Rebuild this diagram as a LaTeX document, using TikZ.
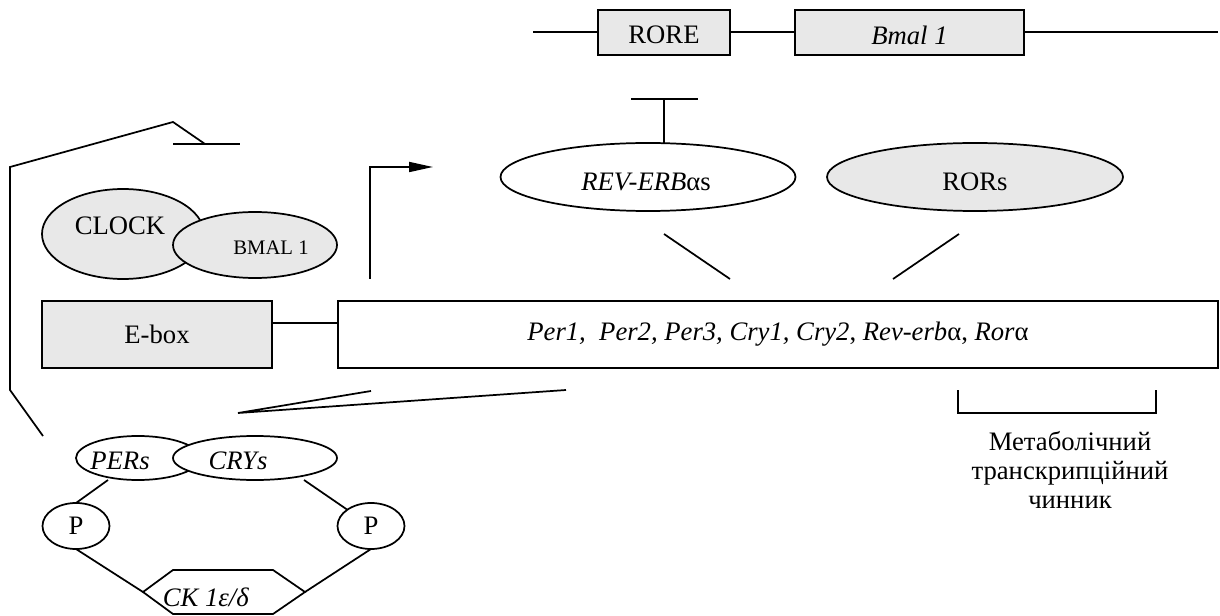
\documentclass[tikz,border=0pt]{standalone}
\usepackage{fontspec}
\setmainfont{Liberation Serif}
\usetikzlibrary{arrows.meta,shapes.geometric}
\definecolor{boxgray}{HTML}{E8E8E8}
\begin{document}
\begin{tikzpicture}[x=0.75pt,y=-0.75pt,
  every node/.style={font=\fontsize{20}{24}\selectfont, inner sep=0pt, outer sep=0pt},
  ln/.style={line width=1.3pt},
  gbox/.style={draw, ln, fill=boxgray, rectangle},
  wbox/.style={draw, ln, fill=white, rectangle},
  gell/.style={draw, ln, fill=boxgray, ellipse},
  well/.style={draw, ln, fill=white, ellipse},
  small/.style={font=\fontsize{15.5}{18}\selectfont}]
\useasboundingbox (0,0) rectangle (1220,616);

% top gene line
\coordinate (tl) at (533,32);
\coordinate (tr) at (1218,32);
\node[gbox, minimum width=99pt, minimum height=33.75pt] (rore) at (664,32.5) {};
\node (roretxt) at (664,35) {RORE};
\node[gbox, minimum width=171.75pt, minimum height=33.75pt] (bmal) at (909.5,32.5) {};
\node (bmaltxt1) at (909.5,35) {\textit{Bmal 1}};
\draw[ln] (tl) -- (tl -| rore.west);
\draw[ln] (rore.east |- tl) -- (bmal.west |- tl);
\draw[ln] (bmal.east |- tl) -- (tr);

% REV-ERB and RORs
\node[well, minimum width=221.25pt, minimum height=51pt] (rev) at (648,177) {};
\node (revtxt) at (646,182) {\textit{REV-ERB}αs};
\node[gell, minimum width=222pt, minimum height=51pt] (rors) at (975,177) {};
\node (rorstxt) at (975,182) {RORs};
\coordinate (tbl) at (631,99);
\coordinate (tbr) at (698,99);
\coordinate (tbm) at (664,99);
\draw[ln] (tbl) -- (tbr);
\draw[ln] (tbm) -- (tbm |- rev.north);

% slanted lines to main box
\coordinate (s1a) at (664,234);
\coordinate (s1b) at (730,279);
\coordinate (s2a) at (959,234);
\coordinate (s2b) at (893,279);
\draw[ln] (s1a) -- (s1b);
\draw[ln] (s2a) -- (s2b);

% main boxes
\node[gbox, minimum width=172.5pt, minimum height=50.25pt] (ebox) at (157,334.5) {E-box};
\node[wbox, minimum width=660pt, minimum height=50.25pt] (per) at (778,334.5)
  {\textit{Per1,~ Per2, Per3, Cry1, Cry2}, \textit{Rev-erb}α, \textit{Ror}α};
\draw[ln] ([yshift=8.6pt]ebox.east) -- ([yshift=8.6pt]per.west);

% CLOCK / BMAL1
\node[gell, minimum width=121.5pt, minimum height=67.5pt] (clock) at (123,234) {};
\node (clocktxt) at (120,226) {CLOCK};
\node[gell, minimum width=123pt, minimum height=49.5pt] (bmalp) at (255,245) {};
\node[small] (bmaltxt) at (271,248) {BMAL 1};

% transcription arrow
\coordinate (ar0) at (370,279);
\coordinate (ar1) at (370,167);
\coordinate (ar2) at (433,167);
\draw[ln, -{Triangle[length=18pt,width=7.5pt]}] (ar0) -- (ar1) -- (ar2);

% feedback inhibition line
\coordinate (fb0) at (43,436);
\coordinate (fb1) at (10,390);
\coordinate (fb2) at (10,167);
\coordinate (fb3) at (173,122);
\coordinate (fb4) at (205,144);
\coordinate (fbl) at (173,144);
\coordinate (fbr) at (240,144);
\draw[ln] (fb0) -- (fb1) -- (fb2) -- (fb3) -- (fb4);
\draw[ln] (fbl) -- (fbr);

% translation lines
\coordinate (ca) at (238,413);
\coordinate (cb) at (371,391);
\coordinate (cc) at (566,390);
\draw[ln] (cb) -- (ca) -- (cc);

% PERs / CRYs
\node[well, minimum width=93pt, minimum height=33pt] (pers) at (138,458) {};
\node (perstxt) at (120,461) {\textit{PERs}};
\node[well, minimum width=123pt, minimum height=33pt] (crys) at (255,458) {};
\node (crystxt) at (238,461) {\textit{CRYs}};

% P circles
\node[well, minimum width=50.25pt, minimum height=34.5pt] (pl) at (76,526) {P};
\node[well, minimum width=50.25pt, minimum height=34.5pt] (pr) at (371,526) {P};
\coordinate (pa) at (108,480);
\coordinate (pb) at (304,480);
\draw[ln] (pa) -- (pl.north);
\draw[ln] (pb) -- (pr.north west);

% hexagon CK
\coordinate (h1) at (173,570);
\coordinate (h2) at (273,570);
\coordinate (h3) at (305,592);
\coordinate (h4) at (273,614);
\coordinate (h5) at (173,614);
\coordinate (h6) at (143,592);
\draw[ln] (h1) -- (h2) -- (h3) -- (h4) -- (h5) -- (h6) -- cycle;
\node (cktxt) at (206,597) {\textit{CK 1ε/δ}};
\draw[ln] (pl.south) -- (h6);
\draw[ln] (pr.south) -- (h3);

% bracket and label
\coordinate (br1) at (958,390);
\coordinate (br2) at (958,413);
\coordinate (br3) at (1156,413);
\coordinate (br4) at (1156,390);
\draw[ln] (br1) -- (br2) -- (br3) -- (br4);
\node[align=center, font=\fontsize{20}{21.75}\selectfont] (meta) at (1070,470) {Метаболічний\\транскрипційний\\чинник};
\end{tikzpicture}
\end{document}
